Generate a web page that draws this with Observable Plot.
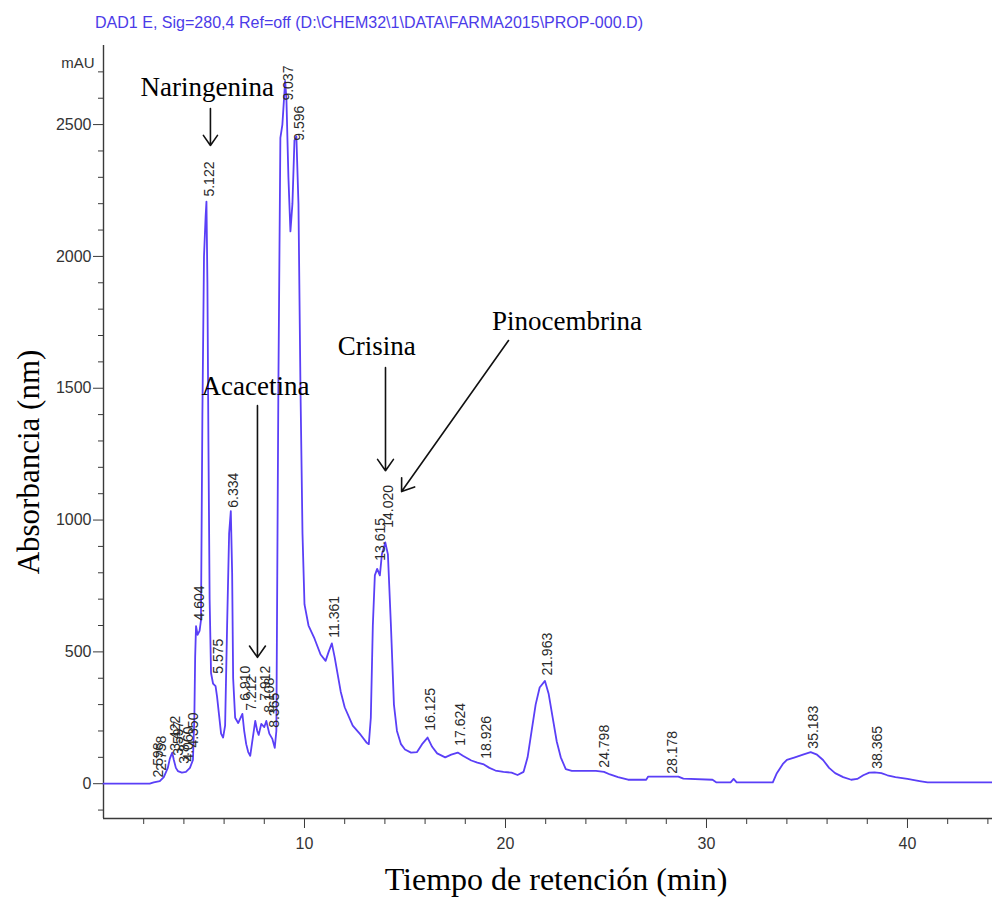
<!DOCTYPE html>
<html>
<head>
<meta charset="utf-8">
<script src="https://cdn.jsdelivr.net/npm/d3@7"></script>
<script src="https://cdn.jsdelivr.net/npm/@observablehq/plot@0.6"></script>
<style>
  html, body { margin: 0; padding: 0; background: #fff; }
  #chart svg { display: block; }
</style>
</head>
<body>
<div id="chart"></div>
<script>
// HPLC-DAD chromatogram at 280 nm of a propolis extract
const retentionTime = [
  0, 2.3, 2.5, 2.8, 3.0, 3.2, 3.3, 3.42, 3.5, 3.6, 3.7, 3.9, 4.1, 4.3, 4.45, 4.52,
  4.56, 4.604, 4.68, 4.78, 4.85, 4.92, 5.0, 5.08, 5.122, 5.17, 5.22, 5.28, 5.35, 5.45,
  5.575, 5.65, 5.75, 5.85, 5.95, 6.05, 6.15, 6.25, 6.334, 6.4, 6.45, 6.55, 6.7, 6.91,
  7.0, 7.1, 7.2, 7.3, 7.4, 7.55, 7.65, 7.72, 7.85, 8.0, 8.1, 8.25, 8.4, 8.52, 8.6,
  8.7, 8.8, 8.9, 9.037, 9.1, 9.2, 9.3, 9.4, 9.5, 9.596, 9.7, 9.8, 9.9, 10.0, 10.2,
  10.5, 10.8, 11.05, 11.2, 11.361, 11.5, 11.8, 12.0, 12.4, 12.8, 13.1, 13.2, 13.3,
  13.4, 13.5, 13.615, 13.75, 13.85, 14.02, 14.15, 14.3, 14.45, 14.6, 14.8, 15.0,
  15.3, 15.6, 15.85, 16.125, 16.35, 16.6, 17.0, 17.3, 17.624, 17.9, 18.3, 18.6,
  18.926, 19.2, 19.5, 19.9, 20.3, 20.6, 20.9, 21.1, 21.3, 21.5, 21.7, 21.963, 22.15,
  22.35, 22.55, 22.75, 23.0, 23.3, 24.5, 24.9, 25.2, 25.6, 26.1, 27.0, 27.1, 28.6,
  28.85, 30.3, 30.5, 31.2, 31.35, 31.5, 33.3, 33.5, 33.8, 34.0, 34.4, 34.8, 35.183,
  35.5, 35.8, 36.1, 36.4, 36.8, 37.2, 37.5, 37.8, 38.1, 38.365, 38.7, 39.0, 39.4,
  40.0, 40.6, 41.0, 44.3
];
const absorbance = [
  0, 0, 5, 10, 25, 60, 95, 118, 90, 60, 48, 42, 45, 60, 90, 250,
  480, 598, 565, 580, 620, 1400, 2000, 2150, 2208, 1900, 1300, 700, 420, 380,
  370, 330, 260, 190, 175, 220, 600, 950, 1034, 800, 400, 250, 230, 265,
  200, 150, 120, 106, 160, 238, 200, 185, 227, 215, 238, 190, 170, 136, 200,
  1500, 2450, 2500, 2665, 2600, 2300, 2095, 2200, 2440, 2455, 2200, 1500, 950, 680, 600,
  550, 490, 466, 500, 532, 480, 350, 290, 220, 185, 155, 150, 250,
  600, 790, 815, 790, 870, 915, 870, 600, 300, 200, 150, 130,
  118, 120, 150, 175, 140, 115, 100, 110, 118, 105, 88, 80,
  73, 60, 50, 45, 42, 33, 45, 100, 200, 300, 365, 390, 340,
  250, 160, 100, 55, 49, 49, 45, 35, 25, 15, 15, 27, 27,
  19, 15, 5, 5, 18, 5, 5, 40, 75, 90, 100, 110, 120,
  110, 90, 60, 40, 25, 15, 18, 32, 42, 43, 40, 32, 25,
  18, 10, 5, 5
];

// Integrator peak marks: retention time label and the level where each label sits
const peakTimes = [
  2.598, 2.758, 3.422, 3.597, 3.877, 4.060, 4.350, 4.604, 5.122, 5.575, 6.334, 6.910,
  7.212, 7.912, 8.108, 8.365, 9.037, 9.596, 11.361, 13.615, 14.020, 16.125, 17.624,
  18.926, 21.963, 24.798, 28.178, 35.183, 38.365
];
const peakLabelLevel = [
  5, 30, 106, 87, 57, 65, 118, 600, 2208, 398, 1028, 296,
  258, 296, 250, 193, 2572, 2420, 535, 827, 952, 182, 125,
  76, 391, 42, 19, 114, 38
];

// Compound annotations (text position and arrow from / to)
const compoundNames = ["Naringenina", "Acacetina", "Crisina", "Pinocembrina"];
const compoundTextX = [5.16, 7.56, 13.6, 23.06];
const compoundTextY = [2643, 1506, 1658, 1753];
const arrowX1 = [5.32, 7.66, 14.03, 20.15];
const arrowY1 = [2561, 1434, 1578, 1681];
const arrowX2 = [5.32, 7.66, 14.03, 14.83];
const arrowY2 = [2421, 479, 1187, 1108];

// Axis ticks
const xMajorTicks = [10, 20, 30, 40];
const xMinorTicks = [2, 4, 6, 8, 12, 14, 16, 18, 22, 24, 26, 28, 32, 34, 36, 38, 42, 44];
const yMajorTicks = [0, 500, 1000, 1500, 2000, 2500];
const yMinorTicks = [-100, 100, 200, 300, 400, 600, 700, 800, 900, 1100, 1200, 1300, 1400,
  1600, 1700, 1800, 1900, 2100, 2200, 2300, 2400, 2600, 2700];

const trace = retentionTime.map((t, i) => ({t, v: absorbance[i]}));
const peaks = peakTimes.map((t, i) => ({t, v: peakLabelLevel[i], label: t.toFixed(3)}));
const compounds = compoundNames.map((name, i) => ({
  name, tx: compoundTextX[i], ty: compoundTextY[i],
  x1: arrowX1[i], y1: arrowY1[i], x2: arrowX2[i], y2: arrowY2[i]
}));

const traceColor = "#5a3ff7";
const axisColor = "#3a3a3a";
const sansFont = "'Liberation Sans', Arial, sans-serif";
const serifFont = "'Liberation Serif', 'Times New Roman', serif";

const chart = Plot.plot({
  width: 992,
  height: 900,
  marginLeft: 103,
  marginRight: 0,
  marginTop: 45,
  marginBottom: 82,
  x: {domain: [0, 44.23]},
  y: {domain: [-132, 2800]},
  style: {fontFamily: sansFont, fontSize: "16px", color: "#333", background: "#fff", overflow: "visible"},
  marks: [
    Plot.axisY({ticks: yMajorTicks, tickFormat: d3.format("d"), tickSize: 10, tickPadding: 2, label: null, fontSize: 16, stroke: axisColor}),
    Plot.axisY({ticks: yMinorTicks, tickSize: 5, tickFormat: () => "", label: null, stroke: axisColor}),
    Plot.axisX({ticks: xMajorTicks, tickFormat: d3.format("d"), tickSize: 10, tickPadding: 9, label: null, fontSize: 16, stroke: axisColor}),
    Plot.axisX({ticks: xMinorTicks, tickSize: 6, tickFormat: () => "", label: null, stroke: axisColor}),
    Plot.ruleY([-132], {stroke: axisColor, strokeWidth: 1.4}),
    Plot.ruleX([0], {stroke: axisColor, strokeWidth: 1.4}),
    Plot.text(["mAU"], {frameAnchor: "top-left", text: d => d, textAnchor: "end", dx: -9, dy: 12, fontSize: 15, fill: "#333"}),
    Plot.line(trace, {x: "t", y: "v", stroke: traceColor, strokeWidth: 1.8}),
    Plot.text(peaks, {
      x: "t", y: "v", text: "label", rotate: -90, textAnchor: "start", lineAnchor: "middle",
      dx: 3, dy: -5, fontSize: 14, fill: "#2a2a2a"
    }),
    Plot.arrow(compounds, {
      x1: "x1", y1: "y1", x2: "x2", y2: "y2",
      stroke: "#111", strokeWidth: 1.6, headLength: 13, headAngle: 70
    }),
    Plot.text(compounds, {
      x: "tx", y: "ty", text: "name", fontFamily: serifFont, fontSize: 27, fill: "#000"
    })
  ]
});

const svg = d3.select(chart);

// Signal description line above the plot
svg.append("text")
  .attr("x", 95).attr("y", 28)
  .attr("text-anchor", "start")
  .attr("textLength", 548).attr("lengthAdjust", "spacingAndGlyphs")
  .attr("font-family", sansFont).attr("font-size", 17)
  .attr("fill", "#4b3be8")
  .text("DAD1 E, Sig=280,4 Ref=off (D:\\CHEM32\\1\\DATA\\FARMA2015\\PROP-000.D)");

// Axis titles
svg.append("text")
  .attr("transform", "translate(39,462) rotate(-90)")
  .attr("text-anchor", "middle")
  .attr("font-family", serifFont).attr("font-size", 31)
  .attr("fill", "#000")
  .text("Absorbancia (nm)");

svg.append("text")
  .attr("x", 556).attr("y", 890)
  .attr("text-anchor", "middle")
  .attr("font-family", serifFont).attr("font-size", 32)
  .attr("fill", "#000")
  .text("Tiempo de retención (min)");

document.getElementById("chart").appendChild(chart);
</script>
</body>
</html>
